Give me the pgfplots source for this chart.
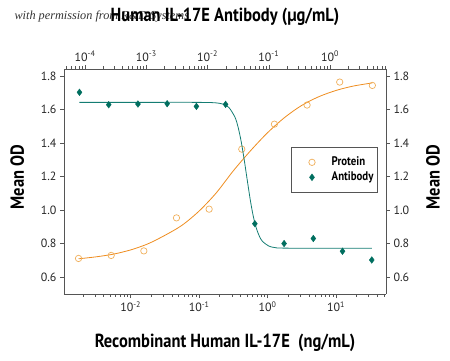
\documentclass[border=0pt]{standalone}
\usepackage{fontspec}
\setmainfont{PT Sans}
\newfontfamily\condfont{PT Sans}[FakeStretch=0.87]
\newfontfamily\wmfont{Liberation Serif}
\usepackage{pgfplots}
\pgfplotsset{compat=1.18}
\definecolor{protline}{RGB}{238,140,30}
\definecolor{protmark}{RGB}{240,175,90}
\definecolor{abcol}{RGB}{0,110,95}
\definecolor{abline}{RGB}{20,125,115}
\definecolor{axcol}{RGB}{85,85,85}
\newcommand\labfont{\condfont\bfseries\fontsize{19}{19}\selectfont}
\newcommand\tickfont{\fontsize{12}{12}\selectfont}
\begin{document}
\begin{tikzpicture}
\useasboundingbox (0bp,0bp) rectangle (450bp,361bp);
\node[anchor=west, font=\wmfont\itshape\fontsize{12.3}{12.3}\selectfont, text=black!80] at (11bp,344bp) {with permission from R\&D Systems};
% bottom axis: recombinant protein (ng/mL)
\begin{axis}[
  at={(64bp,67bp)}, anchor=south west,
  scale only axis, width=322bp, height=225bp,
  xmode=log, ymin=0.5, ymax=1.842,
  xmin=0.001059, xmax=53.8,
  axis x line*=bottom, axis y line*=left,
  tick align=outside,
  major tick length=4bp, minor tick length=2.5bp,
  axis line style={axcol, line width=0.6bp},
  tick style={axcol, line width=0.5bp},
  tick label style={font=\tickfont, text=black!85},
  ytick={0.6,0.8,1.0,1.2,1.4,1.6,1.8},
  yticklabel style={/pgf/number format/fixed, /pgf/number format/fixed zerofill, /pgf/number format/precision=1, /pgf/number format/assume math mode=true},
  xtick={0.01,0.1,1,10},
  xticklabels={10\textsuperscript{-2},10\textsuperscript{-1},10\textsuperscript{0},10\textsuperscript{1}},
  minor xtick={0.002,0.003,0.004,0.005,0.006,0.007,0.008,0.009,
    0.02,0.03,0.04,0.05,0.06,0.07,0.08,0.09,
    0.2,0.3,0.4,0.5,0.6,0.7,0.8,0.9,
    2,3,4,5,6,7,8,9,20,30,40,50},
  xlabel={Recombinant Human IL-17E\ \ (ng/mL)},
  ylabel={Mean OD},
  xlabel style={at={(axis description cs:0.5,-0.218)}, anchor=center, font=\labfont},
  ylabel style={at={(axis description cs:-0.145,0.52)}, anchor=center, font=\labfont},
]
\addplot[protline, line width=0.8bp, smooth, forget plot] coordinates {
(0.001727,0.710) (0.003162,0.722) (0.005623,0.738) (0.01,0.763)
(0.01778,0.799) (0.03162,0.850) (0.05623,0.910) (0.1,0.995)
(0.1778,1.103) (0.3162,1.235) (0.5623,1.354) (1,1.462)
(1.778,1.553) (3.162,1.625) (5.623,1.677) (10,1.714)
(17.78,1.740) (34,1.759)};
\addplot[only marks, mark=o, mark size=3.2bp, protmark, mark options={line width=0.7bp}] coordinates {
(0.001727,0.712) (0.005182,0.730) (0.01555,0.757) (0.04664,0.954)
(0.1399,1.006) (0.4198,1.364) (1.259,1.513) (3.778,1.627)
(11.33,1.764) (34,1.744)};
\end{axis}
% top axis: antibody (ug/mL)
\begin{axis}[
  at={(64bp,67bp)}, anchor=south west,
  scale only axis, width=322bp, height=225bp,
  xmode=log, ymin=0.5, ymax=1.842,
  xmin=4.54e-5, xmax=8.2,
  axis x line*=top, axis y line*=right,
  tick align=outside,
  major tick length=4bp, minor tick length=2.5bp,
  axis line style={axcol, line width=0.6bp},
  tick style={axcol, line width=0.5bp},
  tick label style={font=\tickfont, text=black!85},
  ytick={0.6,0.8,1.0,1.2,1.4,1.6,1.8},
  yticklabel style={/pgf/number format/fixed, /pgf/number format/fixed zerofill, /pgf/number format/precision=1, /pgf/number format/assume math mode=true},
  xtick={1e-4,1e-3,1e-2,1e-1,1},
  xticklabels={10\textsuperscript{-4},10\textsuperscript{-3},10\textsuperscript{-2},10\textsuperscript{-1},10\textsuperscript{0}},
  minor xtick={5e-5,6e-5,7e-5,8e-5,9e-5,
    2e-4,3e-4,4e-4,5e-4,6e-4,7e-4,8e-4,9e-4,
    2e-3,3e-3,4e-3,5e-3,6e-3,7e-3,8e-3,9e-3,
    0.02,0.03,0.04,0.05,0.06,0.07,0.08,0.09,
    0.2,0.3,0.4,0.5,0.6,0.7,0.8,0.9,2,3,4,5,6,7,8},
  xlabel={Human IL-17E Antibody (µg/mL)},
  ylabel={Mean OD},
  xlabel style={at={(axis description cs:0.5,1.231)}, anchor=center, font=\labfont},
  ylabel style={at={(axis description cs:1.146,0.52)}, anchor=center, font=\labfont},
  legend cell align=left,
  legend image code/.code={\draw[#1] plot coordinates {(0bp,0bp)};},
  legend style={at={(axis description cs:0.975,0.653)}, anchor=north east,
    draw=axcol, line width=0.5bp, fill=white,
    font=\condfont\bfseries\fontsize{12.5}{12.5}\selectfont,
    inner xsep=18bp, inner ysep=9bp, row sep=3bp,
    nodes={inner sep=0pt, text height=9bp, text depth=3bp, text width=28bp, align=left},
    /tikz/every odd column/.append style={column sep=16.5bp}},
]
\addlegendimage{only marks, mark=o, mark size=3.2bp, protmark, mark options={line width=0.7bp}}
\addlegendentry{Protein}
\addplot[abline, line width=0.8bp, smooth, forget plot] coordinates {
(0.0000813,1.643) (0.001,1.643) (0.00631,1.643) (0.01259,1.641)
(0.01778,1.633) (0.02239,1.612) (0.02818,1.553) (0.03162,1.494)
(0.03548,1.409) (0.03981,1.299) (0.04335,1.208) (0.05012,1.057)
(0.05623,0.959) (0.0631,0.889) (0.07079,0.842) (0.07943,0.813)
(0.1,0.786) (0.1259,0.777) (0.1995,0.7735) (4.8,0.773)};
\addplot[only marks, mark=diamond*, mark size=3.3bp, abcol, mark options={fill=abcol}] coordinates {
(0.0000813,1.703) (0.0002439,1.629) (0.0007316,1.633) (0.002195,1.635)
(0.006584,1.619) (0.01975,1.631) (0.05926,0.919) (0.1778,0.801)
(0.5333,0.831) (1.6,0.755) (4.8,0.703)};
\addlegendentry{Antibody}
\end{axis}
\end{tikzpicture}
\end{document}
